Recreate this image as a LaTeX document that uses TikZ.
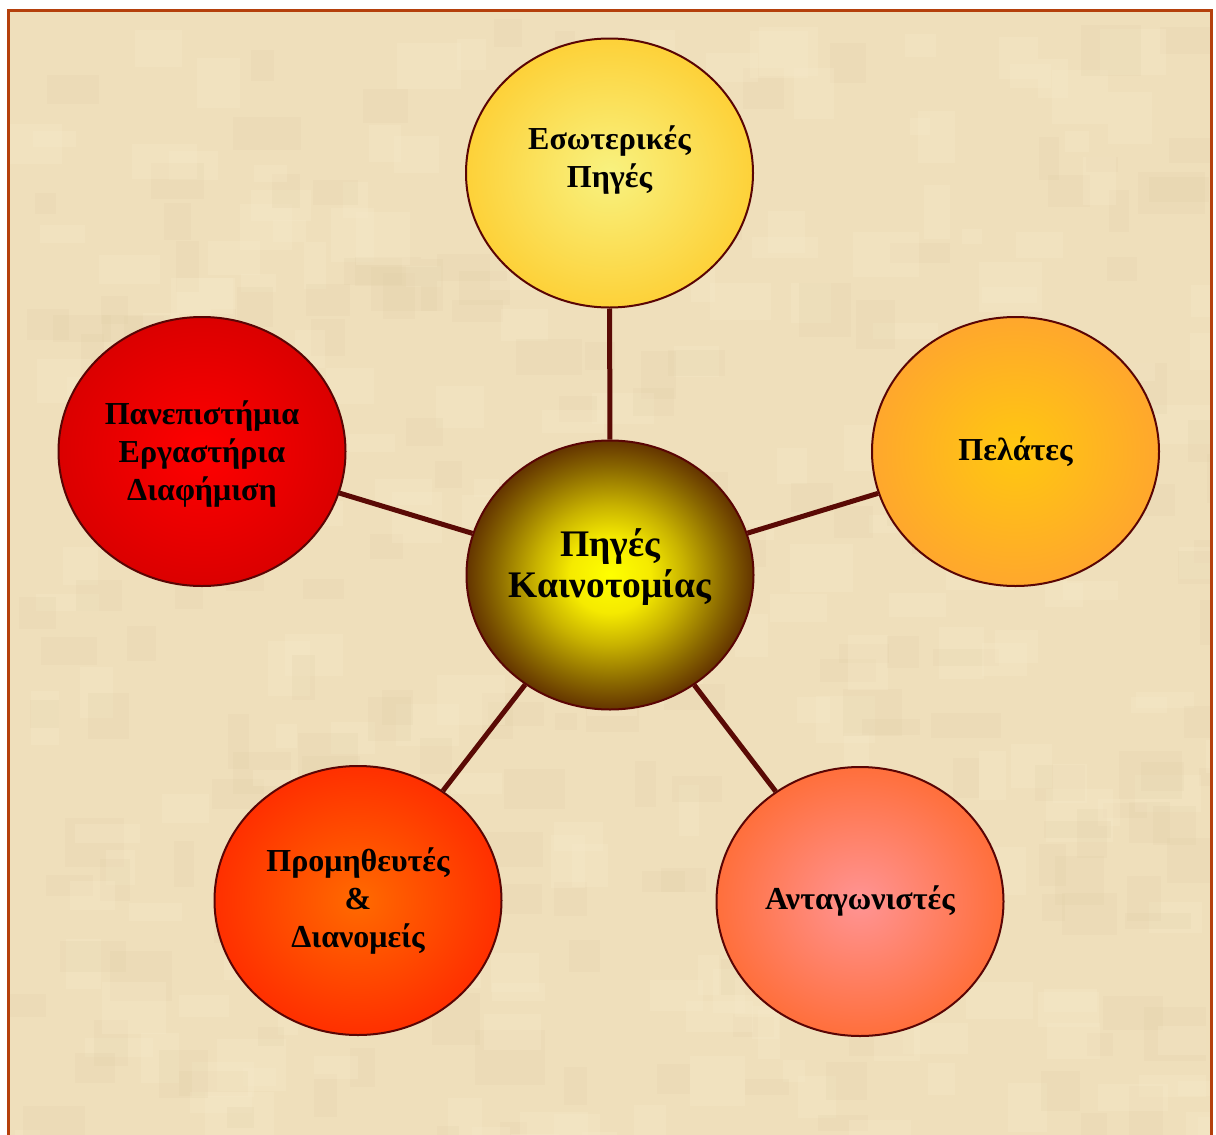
\documentclass[tikz,border=0pt]{standalone}
\usepackage{fontspec}
\setmainfont{Liberation Serif}
\usetikzlibrary{shapes.geometric}
\definecolor{bgcol}{HTML}{EFDFBB}
\definecolor{bglight}{HTML}{F7E9C9}
\definecolor{bgdark}{HTML}{E0CDA6}
\definecolor{framecol}{HTML}{B5400C}
\definecolor{edgecol}{HTML}{5A0505}
\definecolor{conncol}{HTML}{5A0A05}
\definecolor{topin}{HTML}{F8F280}
\definecolor{topout}{HTML}{FFC41C}
\definecolor{rin}{HTML}{FFC810}
\definecolor{rout}{HTML}{FF9A38}
\definecolor{lin}{HTML}{FF0000}
\definecolor{lout}{HTML}{CC0000}
\definecolor{blin}{HTML}{FF6A00}
\definecolor{blout}{HTML}{FF1800}
\definecolor{brin}{HTML}{FF9494}
\definecolor{brout}{HTML}{FF6018}
\definecolor{cin}{HTML}{FFFF00}
\definecolor{cm1}{HTML}{F5EA00}
\definecolor{cm2}{HTML}{C8B200}
\definecolor{cm3}{HTML}{8A6800}
\definecolor{cm4}{HTML}{5C2A00}
\definecolor{cout}{HTML}{4A1000}
\pgfdeclareradialshading{shtop}{\pgfpoint{0bp}{0bp}}{color(0bp)=(topin); color(35bp)=(topout); color(50bp)=(topout)}
\pgfdeclareradialshading{shright}{\pgfpoint{0bp}{0bp}}{color(0bp)=(rin); color(35bp)=(rout); color(50bp)=(rout)}
\pgfdeclareradialshading{shleft}{\pgfpoint{0bp}{0bp}}{color(0bp)=(lin); color(35bp)=(lout); color(50bp)=(lout)}
\pgfdeclareradialshading{shbl}{\pgfpoint{0bp}{0bp}}{color(0bp)=(blin); color(35bp)=(blout); color(50bp)=(blout)}
\pgfdeclareradialshading{shbr}{\pgfpoint{0bp}{0bp}}{color(0bp)=(brin); color(35bp)=(brout); color(50bp)=(brout)}
\pgfdeclareradialshading{shcenter}{\pgfpoint{0bp}{0bp}}{color(0bp)=(cin); color(7bp)=(cm1); color(13bp)=(cm2); color(20bp)=(cm3); color(26bp)=(cm4); color(32bp)=(cout); color(50bp)=(cout)}
\newcommand\liftbox[2]{\raisebox{#1}[\height][\depth]{\begin{tabular}{@{}c@{}}#2\end{tabular}}}
\tikzset{
  bubble/.style={ellipse, draw=edgecol, line width=2pt, minimum width=287pt,
    minimum height=269pt, inner sep=0pt, align=center,
    font=\bfseries\fontsize{32}{38}\selectfont},
  hub/.style={bubble, font=\bfseries\fontsize{37.5}{41}\selectfont},
  conn/.style={draw=conncol, line width=5pt},
  frameline/.style={draw=framecol, line width=3pt}
}
\begin{document}
\begin{tikzpicture}[x=1pt,y=-1pt]
\useasboundingbox (0,0) rectangle (1216,1135);
\fill[white] (0,0) rectangle (1216,1135);
\fill[bgcol] (8,10) rectangle (1211,1135);
\begin{scope}
\clip (8,10) rectangle (1211,1135);
\pgfmathsetseed{11}
\foreach \i in {1,...,420}{
  \pgfmathsetmacro{\px}{8+1200*rnd}
  \pgfmathsetmacro{\py}{10+1125*rnd}
  \pgfmathsetmacro{\pw}{20+50*rnd}
  \pgfmathsetmacro{\ph}{15+40*rnd}
  \pgfmathsetmacro{\pc}{rnd}
  \ifdim\pc pt<0.5pt
    \fill[bglight, opacity=0.3] (\px,\py) rectangle ++(\pw,\ph);
  \else
    \fill[bgdark, opacity=0.18] (\px,\py) rectangle ++(\pw,\ph);
  \fi
}
\end{scope}
\draw[frameline] (8,1140) -- (8,10) -- (1211,10) -- (1211,1140);

\node[hub, shading=shcenter] (c) at (610,575) {\liftbox{6pt}{Πηγές\\Καινοτομίας}};
\node[bubble, shading=shtop] (t) at (609.5,173) {\liftbox{12pt}{Εσωτερικές\\Πηγές}};
\node[bubble, shading=shright] (r) at (1015.5,451.5) {Πελάτες};
\node[bubble, shading=shleft] (l) at (202,451.5) {\liftbox{-3pt}{Πανεπιστήμια\\Εργαστήρια\\Διαφήμιση}};
\node[bubble, shading=shbl] (bl) at (358,900.5) {\liftbox{-1pt}{Προμηθευτές\\\&\\Διανομείς}};
\node[bubble, shading=shbr] (br) at (860,901.5) {Ανταγωνιστές};

\draw[conn] (c) -- (t);
\draw[conn] (c) -- (r);
\draw[conn] (c) -- (l);
\draw[conn] (c) -- (bl);
\draw[conn] (c) -- (br);
\end{tikzpicture}
\end{document}
